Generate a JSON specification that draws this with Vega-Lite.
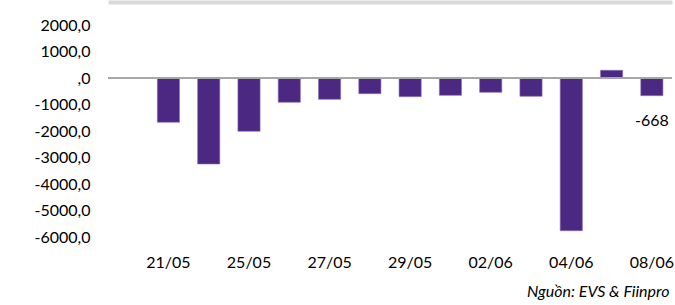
{
  "$schema": "https://vega.github.io/schema/vega-lite/v6.json",
  "width": 564,
  "height": 212,
  "autosize": "none",
  "padding": {"left": 108, "top": 25, "right": 3, "bottom": 68},
  "background": "white",
  "config": {
    "view": {"stroke": null},
    "font": "Lato",
    "locale": {"number": {"decimal": ",", "thousands": ".", "grouping": [3], "currency": ["", ""], "minus": "-"}},
    "axis": {"labelFont": "Lato", "labelFontSize": 16, "labelColor": "#000000", "grid": false, "ticks": false, "domain": false},
    "axisY": {"labelOverlap": false, "labelPadding": 18, "labelExpr": "datum.value == 0 ? ',0' : (datum.value < 0 ? '-' : '') + abs(datum.value) + ',0'"}
  },
  "title": {
    "text": "Nguồn: EVS & Fiinpro",
    "orient": "bottom",
    "anchor": "end",
    "font": "Lato",
    "fontSize": 16,
    "fontStyle": "italic",
    "fontWeight": "normal",
    "color": "#000000",
    "offset": 14,
    "dx": -4
  },
  "data": {
    "values": [
      {"date": "21/05", "value": -1672},
      {"date": "22/05", "value": -3245},
      {"date": "25/05", "value": -2012},
      {"date": "26/05", "value": -917},
      {"date": "27/05", "value": -804},
      {"date": "28/05", "value": -592},
      {"date": "29/05", "value": -705},
      {"date": "01/06", "value": -653},
      {"date": "02/06", "value": -540},
      {"date": "03/06", "value": -691},
      {"date": "04/06", "value": -5762},
      {"date": "05/06", "value": 290},
      {"date": "08/06", "value": -668}
    ]
  },
  "resolve": {"axis": {"x": "independent"}},
  "layer": [
    {
      "mark": {"type": "bar", "color": "#4b2882", "stroke": "#8a6fb5", "strokeWidth": 0.6},
      "encoding": {
        "x": {
          "field": "date",
          "type": "nominal",
          "sort": null,
          "scale": {
            "domain": [" ", "21/05", "22/05", "25/05", "26/05", "27/05", "28/05", "29/05", "01/06", "02/06", "03/06", "04/06", "05/06", "08/06"],
            "paddingInner": 0.45,
            "paddingOuter": 0.225
          },
          "axis": {
            "title": null,
            "labelAngle": 0,
            "labelPadding": 17,
            "labelOverlap": false,
            "values": ["21/05", "25/05", "27/05", "29/05", "02/06", "04/06", "08/06"]
          }
        },
        "y": {
          "field": "value",
          "type": "quantitative",
          "scale": {"domain": [-6000, 2000], "nice": false, "zero": true},
          "axis": {
            "title": null,
            "values": [-6000, -5000, -4000, -3000, -2000, -1000, 0, 1000, 2000],
            "labelOverlap": false
          }
        }
      }
    },
    {
      "mark": {"type": "rule", "color": "#a6a6a6", "strokeWidth": 1},
      "encoding": {
        "y": {"datum": 0, "type": "quantitative", "axis": {"title": null, "values": [-6000, -5000, -4000, -3000, -2000, -1000, 0, 1000, 2000], "labelOverlap": false}}
      }
    },
    {
      "transform": [{"filter": "datum.date == '08/06'"}],
      "mark": {"type": "text", "baseline": "top", "align": "center", "dy": 17, "fontSize": 16, "color": "#000000", "font": "Lato"},
      "encoding": {
        "x": {"field": "date", "type": "nominal", "sort": null, "axis": {"orient": "top", "offset": 23, "domain": true, "domainColor": "#d9d9d9", "domainWidth": 4, "labels": false, "ticks": false, "title": null}},
        "y": {"field": "value", "type": "quantitative", "axis": {"title": null, "values": [-6000, -5000, -4000, -3000, -2000, -1000, 0, 1000, 2000], "labelOverlap": false}},
        "text": {"field": "value", "type": "quantitative", "format": "d"}
      }
    }
  ]
}
